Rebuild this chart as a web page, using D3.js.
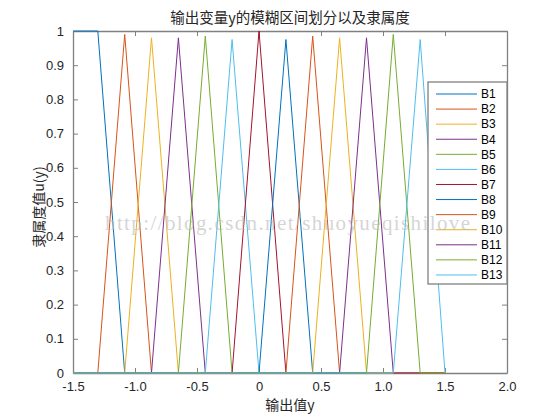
<!DOCTYPE html>
<html>
<head>
<meta charset="utf-8">
<script src="https://cdn.jsdelivr.net/npm/d3@7"></script>
<style>
  body { margin: 0; background: #fff; }
  svg { display: block; font-family: "Liberation Sans", Arial, sans-serif; }
  .cjk { font-family: "Noto Sans CJK SC", sans-serif; }
  .mark { font-family: "Liberation Serif", "DejaVu Serif", serif; }
</style>
</head>
<body>
<div id="chart"></div>
<script>
// membership functions B1..B13
const names = ["B1","B2","B3","B4","B5","B6","B7","B8","B9","B10","B11","B12","B13"];
const centers = [-1.3, -1.083, -0.867, -0.65, -0.433, -0.217, 0, 0.217, 0.433, 0.65, 0.867, 1.083, 1.3];
const peaks = [1, 0.99, 0.98, 0.98, 0.985, 0.975, 1, 0.975, 0.985, 0.98, 0.98, 0.99, 0.975];
const span = [-1.5, 1.5];
const lastFoot = 1.5;

const xTicks = [-1.5, -1.0, -0.5, 0, 0.5, 1.0, 1.5, 2.0];
const xTickLabels = ["-1.5", "-1.0", "-0.5", "0", "0.5", "1.0", "1.5", "2.0"];
const yTicks = [0, 0.1, 0.2, 0.3, 0.4, 0.5, 0.6, 0.7, 0.8, 0.9, 1];

const colors = ["#0072BD","#D95319","#EDB120","#7E2F8E","#77AC30","#4DBEEE","#A2142F"];

const width = 560, height = 420;
const margin = {top: 31, right: 53, bottom: 47, left: 73};
const iw = width - margin.left - margin.right;
const ih = height - margin.top - margin.bottom;

const x = d3.scaleLinear().domain([-1.5, 2.0]).range([0, iw]);
const y = d3.scaleLinear().domain([0, 1]).range([ih, 0]);

// vertices of each curve
const series = names.map((name, i) => {
  let pts;
  if (i === 0) {
    pts = [[span[0], 1], [centers[0], peaks[0]], [centers[1], 0], [span[1], 0]];
  } else if (i === names.length - 1) {
    pts = [[span[0], 0], [centers[i - 1], 0], [centers[i], peaks[i]], [lastFoot, 0]];
  } else {
    pts = [[span[0], 0], [centers[i - 1], 0], [centers[i], peaks[i]], [centers[i + 1], 0], [span[1], 0]];
  }
  return {name: name, color: colors[i % colors.length], pts: pts};
});

const svg = d3.select("#chart").append("svg")
  .attr("width", width)
  .attr("height", height);

const g = svg.append("g")
  .attr("transform", "translate(" + margin.left + "," + margin.top + ")");

const axisColor = "#808080";
const tickText = "#262626";

// ticks, MATLAB style: inside, on all four sides
const xAxisB = d3.axisBottom(x).tickValues(xTicks).tickSizeInner(-5).tickSizeOuter(0)
  .tickFormat((d, i) => xTickLabels[i]).tickPadding(9);
const xAxisT = d3.axisTop(x).tickValues(xTicks).tickSizeInner(-5).tickSizeOuter(0).tickFormat("");
const yAxisL = d3.axisLeft(y).tickValues(yTicks).tickSizeInner(-5).tickSizeOuter(0)
  .tickFormat(d3.format("~g")).tickPadding(9);
const yAxisR = d3.axisRight(y).tickValues(yTicks).tickSizeInner(-5).tickSizeOuter(0).tickFormat("");

const styleAxis = sel => {
  sel.attr("font-family", null);
  sel.select(".domain").attr("stroke", axisColor).attr("stroke-width", 1.3);
  sel.selectAll(".tick line").attr("stroke", axisColor).attr("stroke-width", 1);
  sel.selectAll(".tick text").attr("fill", tickText).attr("font-size", 13);
};

g.append("g").attr("transform", "translate(0," + ih + ")").call(xAxisB).call(styleAxis);
g.append("g").call(xAxisT).call(styleAxis);
g.append("g").call(yAxisL).call(styleAxis);
g.append("g").attr("transform", "translate(" + iw + ",0)").call(yAxisR).call(styleAxis);

// curves, drawn over the box like MATLAB does
const line = d3.line().x(d => x(d[0])).y(d => y(d[1]));
g.append("g")
  .selectAll("path")
  .data(series)
  .join("path")
  .attr("d", d => line(d.pts))
  .attr("fill", "none")
  .attr("stroke", d => d.color)
  .attr("stroke-width", 1);

// title and labels
svg.append("text").attr("class", "cjk")
  .attr("x", margin.left + iw / 2).attr("y", 23)
  .attr("text-anchor", "middle").attr("font-size", 14.5).attr("fill", "#262626")
  .text("输出变量y的模糊区间划分以及隶属度");

svg.append("text").attr("class", "cjk")
  .attr("x", margin.left + iw / 2).attr("y", 410)
  .attr("text-anchor", "middle").attr("font-size", 14).attr("fill", "#262626")
  .text("输出值y");

svg.append("text").attr("class", "cjk")
  .attr("transform", "translate(44," + 207 + ")rotate(-90)")
  .attr("text-anchor", "middle").attr("font-size", 14).attr("fill", "#262626")
  .text("隶属度值u(y)");

// legend
const lg = svg.append("g").attr("transform", "translate(428,82)");
lg.append("rect")
  .attr("width", 79).attr("height", 202)
  .attr("fill", "#fff").attr("stroke", axisColor).attr("stroke-width", 1.3);

const rows = lg.selectAll("g.row")
  .data(series)
  .join("g")
  .attr("class", "row")
  .attr("transform", (d, i) => "translate(0," + (12 + i * 15.08) + ")");

rows.append("line")
  .attr("x1", 8).attr("x2", 49)
  .attr("stroke", d => d.color).attr("stroke-width", 1);

rows.append("text")
  .attr("x", 53).attr("dy", "0.36em")
  .attr("font-size", 12).attr("fill", "#000")
  .text(d => d.name);

// watermark stamped across the picture
svg.append("text").attr("class", "mark")
  .attr("x", 105).attr("y", 230)
  .attr("font-size", 21)
  .attr("textLength", 365)
  .attr("lengthAdjust", "spacing")
  .attr("fill", "#b8b8b8").attr("fill-opacity", 0.6)
  .text("http://blog.csdn.net/shuoyueqishilove");
</script>
</body>
</html>
